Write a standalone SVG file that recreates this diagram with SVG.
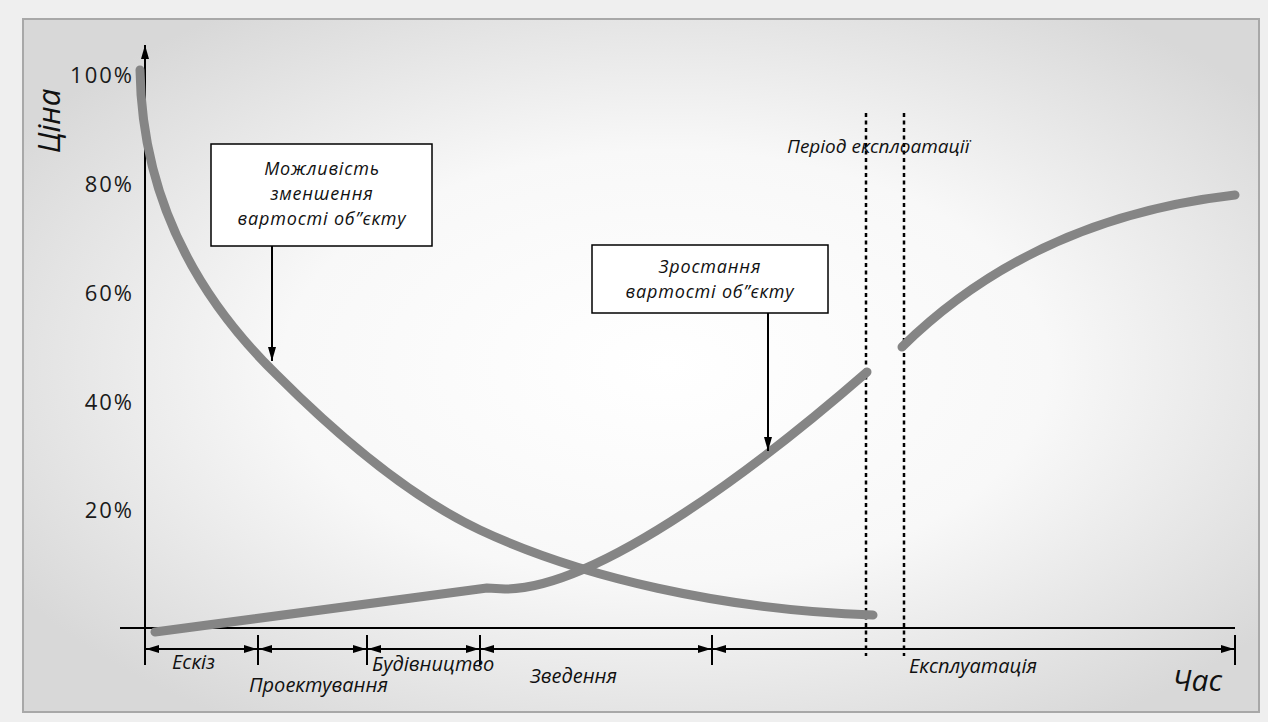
<svg xmlns="http://www.w3.org/2000/svg" width="1268" height="722" viewBox="0 0 1268 722">
<defs>
<radialGradient id="bg" cx="52%" cy="50%" r="62%">
<stop offset="0" stop-color="#ffffff"/>
<stop offset="0.5" stop-color="#f8f8f8"/>
<stop offset="1" stop-color="#d8d8d8"/>
</radialGradient>
<marker id="ah" viewBox="0 0 14 8" refX="14" refY="4" markerWidth="14" markerHeight="8" markerUnits="userSpaceOnUse" orient="auto-start-reverse">
<path d="M0,0 L14,4 L0,8 z" fill="#000"/>
</marker>
<marker id="ahs" viewBox="0 0 13 8" refX="13" refY="4" markerWidth="13" markerHeight="8" markerUnits="userSpaceOnUse" orient="auto-start-reverse">
<path d="M0,0 L13,4 L0,8 z" fill="#000"/>
</marker>
</defs>
<style>
.curve{fill:none;stroke:#858585;stroke-width:9;stroke-linecap:round;stroke-linejoin:round}
.ax{fill:none;stroke:#000;stroke-width:2}
.dot{fill:none;stroke:#000;stroke-width:2.5;stroke-dasharray:4 3.5}
.span{fill:none;stroke:#000;stroke-width:2;marker-start:url(#ahs);marker-end:url(#ahs)}
.call{fill:none;stroke:#000;stroke-width:2;marker-end:url(#ah)}
.box{fill:#ffffff;stroke:#000;stroke-width:1.5}
.pct{font-family:'Open Sans','Noto Sans',sans-serif;font-size:22px;letter-spacing:2px;fill:#1a1a1a;text-anchor:end}
.it{font-family:'Open Sans','Noto Sans',sans-serif;font-style:italic;fill:#111}
.bx{font-size:18px;letter-spacing:0.8px;text-anchor:middle}
.ph{font-size:19px}
</style>
<rect x="0" y="0" width="1268" height="722" fill="#efefef"/>
<rect id="frame" x="23" y="19" width="1236" height="693" fill="url(#bg)" stroke="#a8a8a8" stroke-width="2"/>

<g id="axes">
<line class="ax" x1="120" y1="628" x2="1235" y2="628"/>
<line class="ax" x1="145" y1="665" x2="145" y2="45" marker-end="url(#ah)"/>
<line class="ax" x1="258" y1="635" x2="258" y2="665"/>
<line class="ax" x1="367" y1="635" x2="367" y2="665"/>
<line class="ax" x1="480" y1="635" x2="480" y2="665"/>
<line class="ax" x1="712" y1="635" x2="712" y2="665"/>
<line class="ax" x1="1235" y1="635" x2="1235" y2="665"/>
</g>

<g id="y-labels">
<text class="pct" x="134" y="83">100%</text>
<text class="pct" x="134" y="192">80%</text>
<text class="pct" x="134" y="301">60%</text>
<text class="pct" x="134" y="410">40%</text>
<text class="pct" x="134" y="518">20%</text>
<text class="it" font-size="31" text-anchor="middle" transform="translate(60,121) rotate(-90)">Ціна</text>
<text class="it" font-size="30" text-anchor="end" x="1222" y="691">Час</text>
</g>

<g id="period-lines">
<line class="dot" x1="866" y1="113" x2="866" y2="656"/>
<line class="dot" x1="904" y1="113" x2="904" y2="656"/>
<text class="it ph" x="787" y="153">Період експлоатації</text>
</g>

<g id="curves">
<path id="curve-decrease" class="curve" d="M140,70 C142,200 200,300 277,375 C337,435 410,497 480,530 C580,577 723,610 873,615"/>
<path id="curve-increase" class="curve" d="M155,632 L487,588 L505,589 C600,589 767,459 867,372"/>
<path id="curve-operation" class="curve" d="M902,347 C958,292 1060,215 1235,195"/>
</g>

<g id="box-reduce">
<rect class="box" x="211" y="144" width="221" height="102"/>
<text class="it bx" x="322" y="175">Можливість</text>
<text class="it bx" x="322" y="200">зменшення</text>
<text class="it bx" x="322" y="225">вартості об”єкту</text>
</g>

<g id="box-growth">
<rect class="box" x="592" y="245" width="236" height="68"/>
<text class="it bx" x="710" y="273">Зростання</text>
<text class="it bx" x="710" y="298">вартості об”єкту</text>
</g>

<g id="phase-labels" class="it" font-size="20">
<text x="172" y="669">Ескіз</text>
<text x="249" y="692">Проектування</text>
<text x="372" y="671">Будівництво</text>
<text x="530" y="683">Зведення</text>
<text x="909" y="673">Експлуатація</text>
</g>

<g id="connectors">
<line class="call" x1="272" y1="246" x2="272" y2="361"/>
<line class="call" x1="768" y1="313" x2="768" y2="451"/>
<line class="span" x1="146" y1="649" x2="257" y2="649"/>
<line class="span" x1="259" y1="649" x2="366" y2="649"/>
<line class="span" x1="368" y1="649" x2="479" y2="649"/>
<line class="span" x1="481" y1="649" x2="711" y2="649"/>
<line class="span" x1="713" y1="649" x2="1234" y2="649"/>
</g>
</svg>
